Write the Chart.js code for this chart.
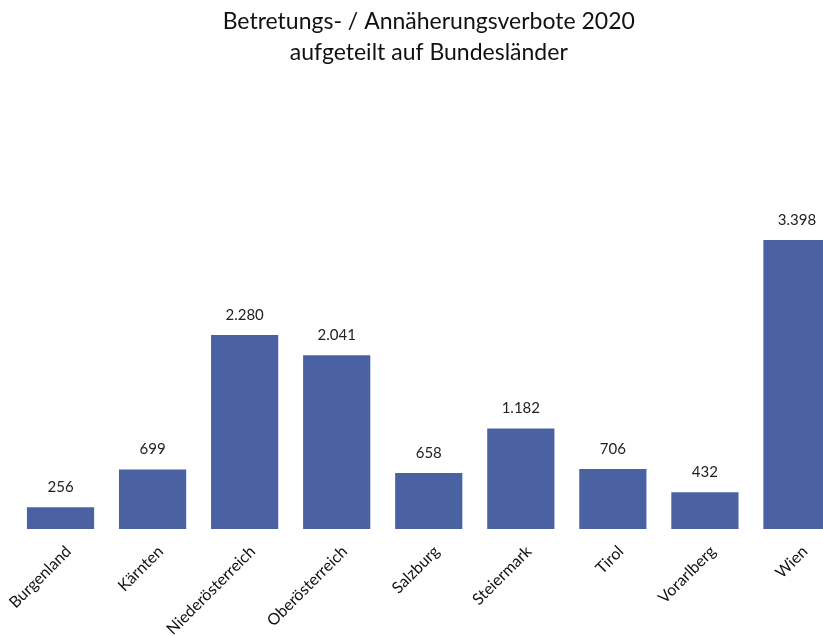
<!DOCTYPE html>
<html>
<head>
<meta charset="utf-8">
<script src="https://cdn.jsdelivr.net/npm/chart.js@4/dist/chart.umd.min.js"></script>
<style>
  html, body { margin: 0; padding: 0; overflow: hidden; background: #fff; }
  #wrap { width: 843px; height: 636px; }
</style>
</head>
<body>
<div id="wrap"><canvas id="chart"></canvas></div>
<script>
/* --------------- Data --------------------- */
const bundeslaender = ["Burgenland", "Kärnten", "Niederösterreich", "Oberösterreich", "Salzburg", "Steiermark", "Tirol", "Vorarlberg", "Wien"];
const verbote = [256, 699, 2280, 2041, 658, 1182, 706, 432, 3398];
const titleLines = ["Betretungs- / Annäherungsverbote 2020", "aufgeteilt auf Bundesländer"];

/* --------------- German thousands separator --------------------- */
const fmt = (v) => String(v).replace(/\B(?=(\d{3})+(?!\d))/g, ".");

/* --------------- Value labels above bars --------------------- */
const valueLabels = {
  id: "valueLabels",
  afterDatasetsDraw(chart) {
    const ctx = chart.ctx;
    const meta = chart.getDatasetMeta(0);
    ctx.save();
    ctx.font = "15px Lato";
    ctx.fillStyle = "#222";
    ctx.textAlign = "center";
    ctx.textBaseline = "middle";
    meta.data.forEach((bar, i) => {
      ctx.fillText(fmt(chart.data.datasets[0].data[i]), bar.x, bar.y - 20);
    });
    ctx.restore();
  },
};

new Chart(document.getElementById("chart"), {
  type: "bar",
  plugins: [valueLabels],
  data: {
    labels: bundeslaender,
    datasets: [
      {
        data: verbote,
        backgroundColor: "#4a62a1",
        barPercentage: 0.73,
        categoryPercentage: 1,
      },
    ],
  },
  options: {
    responsive: true,
    maintainAspectRatio: false,
    animation: false,
    layout: { padding: { left: 14.5, right: 0, top: 0, bottom: 0 } },
    plugins: {
      legend: { display: false },
      tooltip: { enabled: false },
      title: {
        display: true,
        text: titleLines,
        color: "#111",
        font: { family: "Lato", size: 23, weight: "normal", lineHeight: 1.35 },
        padding: { top: 6, bottom: 35.5 },
      },
    },
    scales: {
      x: {
        grid: { display: false },
        border: { display: false },
        ticks: {
          color: "#111",
          font: { family: "Lato", size: 16 },
          minRotation: 45,
          maxRotation: 45,
          autoSkip: false,
          padding: 5,
          labelOffset: 8,
        },
        afterFit(scale) {
          scale.height = 107;
          scale.paddingLeft = 0;
          scale.paddingRight = 0;
        },
      },
      y: {
        display: false,
        min: 0,
        max: 5000,
      },
    },
  },
});
</script>
</body>
</html>
